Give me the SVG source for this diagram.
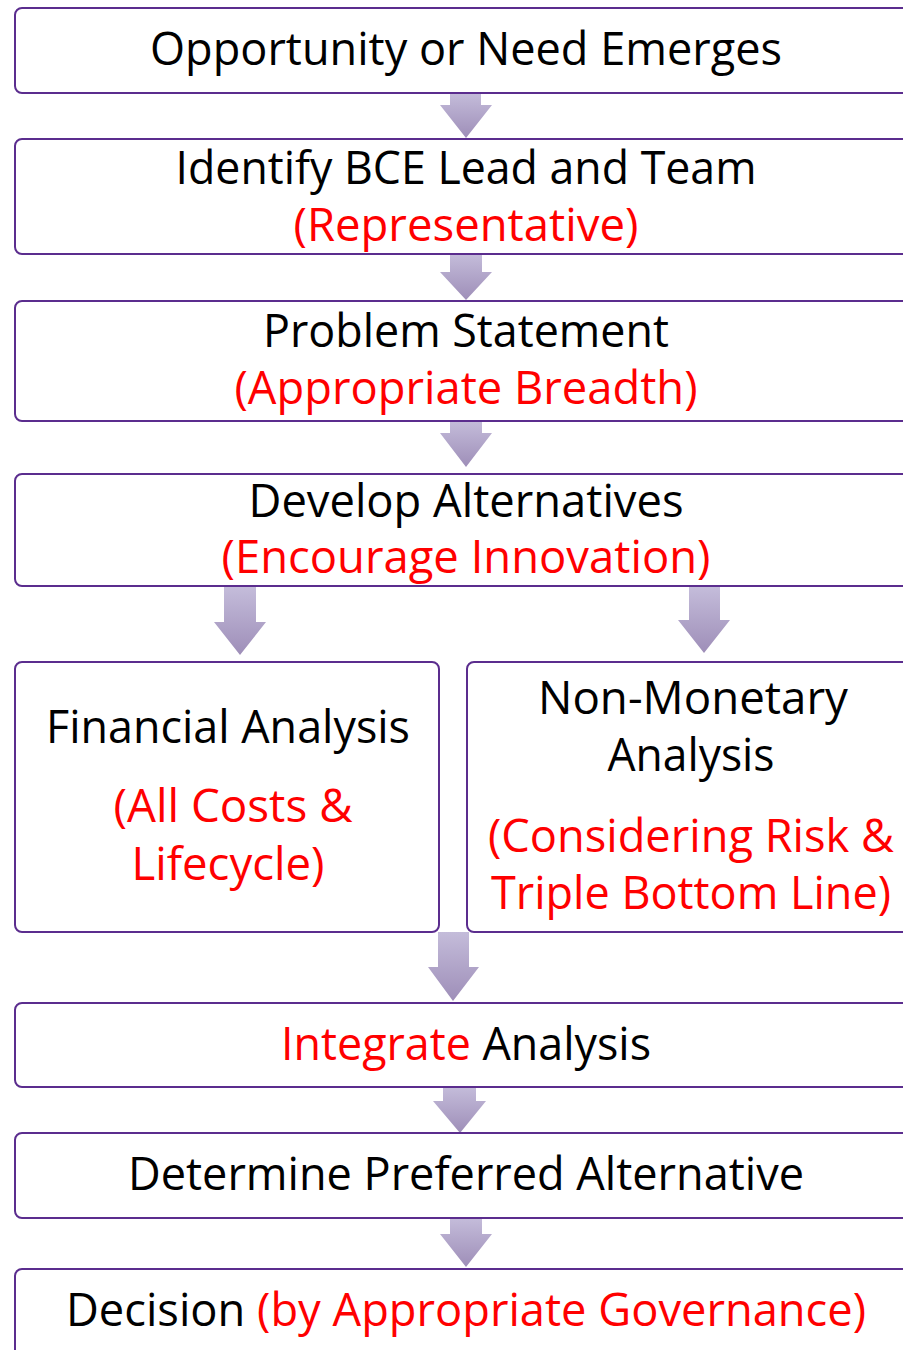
<svg xmlns="http://www.w3.org/2000/svg" width="903" height="1350" viewBox="0 0 903 1350">
<defs>
<linearGradient id="ag" x1="0" y1="0" x2="0" y2="1">
<stop offset="0" stop-color="#c4bcda"/>
<stop offset="1" stop-color="#9e8eb8"/>
</linearGradient>
<style>
.box{fill:#fff;stroke:#5b2d8e;stroke-width:2}
.arr{fill:url(#ag)}
text{font-family:"Open Sans","Noto Sans","Liberation Sans",sans-serif;font-size:45px;fill:#000;text-anchor:middle}
.r{fill:#ff0000}
</style>
</defs>
<rect width="903" height="1350" fill="#fff"/>
<g id="connectors">
<path class="arr" d="M450,93 H481 V105 H492 L466,138 L440,105 H450 Z"/>
<path class="arr" d="M450,254 H482 V272 H492 L466,300 L440,272 H450 Z"/>
<path class="arr" d="M450,421 H482 V433 H492 L466,467 L440,433 H450 Z"/>
<path class="arr" d="M224,587 H256 V622 H266 L240,655 L214,622 H224 Z"/>
<path class="arr" d="M689,587 H720 V620 H730 L704,653 L678,620 H689 Z"/>
<path class="arr" d="M438,932 H469 V967 H479 L453,1001 L428,967 H438 Z"/>
<path class="arr" d="M443,1087 H476 V1101 H486 L460,1133 L433,1101 H443 Z"/>
<path class="arr" d="M450,1218 H482 V1234 H492 L466,1267 L440,1234 H450 Z"/>
</g>
<g id="n1">
<rect class="box" x="15" y="8" width="910" height="85" rx="7"/>
<text x="466" y="65" textLength="632" lengthAdjust="spacingAndGlyphs">Opportunity or Need Emerges</text>
</g>
<g id="n2">
<rect class="box" x="15" y="139" width="910" height="115" rx="7"/>
<text x="466" y="184" textLength="581" lengthAdjust="spacingAndGlyphs">Identify BCE Lead and Team</text>
<text class="r" x="466" y="241" textLength="345" lengthAdjust="spacingAndGlyphs">(Representative)</text>
</g>
<g id="n3">
<rect class="box" x="15" y="301" width="910" height="120" rx="7"/>
<text x="466" y="347" textLength="406" lengthAdjust="spacingAndGlyphs">Problem Statement</text>
<text class="r" x="466" y="404" textLength="463" lengthAdjust="spacingAndGlyphs">(Appropriate Breadth)</text>
</g>
<g id="n4">
<rect class="box" x="15" y="474" width="910" height="112" rx="7"/>
<text x="466" y="517" textLength="435" lengthAdjust="spacingAndGlyphs">Develop Alternatives</text>
<text class="r" x="466" y="573" textLength="489" lengthAdjust="spacingAndGlyphs">(Encourage Innovation)</text>
</g>
<g id="n5a">
<rect class="box" x="15" y="662" width="424" height="270" rx="7"/>
<text x="228" y="743" textLength="364" lengthAdjust="spacingAndGlyphs">Financial Analysis</text>
<text class="r" x="233" y="822" textLength="239" lengthAdjust="spacingAndGlyphs">(All Costs &amp;</text>
<text class="r" x="228" y="880" textLength="193" lengthAdjust="spacingAndGlyphs">Lifecycle)</text>
</g>
<g id="n5b">
<rect class="box" x="467" y="662" width="460" height="270" rx="7"/>
<text x="693" y="714" textLength="310" lengthAdjust="spacingAndGlyphs">Non-Monetary</text>
<text x="691" y="771" textLength="167" lengthAdjust="spacingAndGlyphs">Analysis</text>
<text class="r" x="691" y="852" textLength="406" lengthAdjust="spacingAndGlyphs">(Considering Risk &amp;</text>
<text class="r" x="691" y="909" textLength="400" lengthAdjust="spacingAndGlyphs">Triple Bottom Line)</text>
</g>
<g id="n6">
<rect class="box" x="15" y="1003" width="910" height="84" rx="7"/>
<text x="466" y="1060" textLength="370" lengthAdjust="spacingAndGlyphs"><tspan class="r">Integrate</tspan> Analysis</text>
</g>
<g id="n7">
<rect class="box" x="15" y="1133" width="910" height="85" rx="7"/>
<text x="466" y="1190" textLength="676" lengthAdjust="spacingAndGlyphs">Determine Preferred Alternative</text>
</g>
<g id="n8">
<rect class="box" x="15" y="1269" width="910" height="110" rx="7"/>
<text x="466" y="1326" textLength="800" lengthAdjust="spacingAndGlyphs">Decision <tspan class="r">(by Appropriate Governance)</tspan></text>
</g>
</svg>
